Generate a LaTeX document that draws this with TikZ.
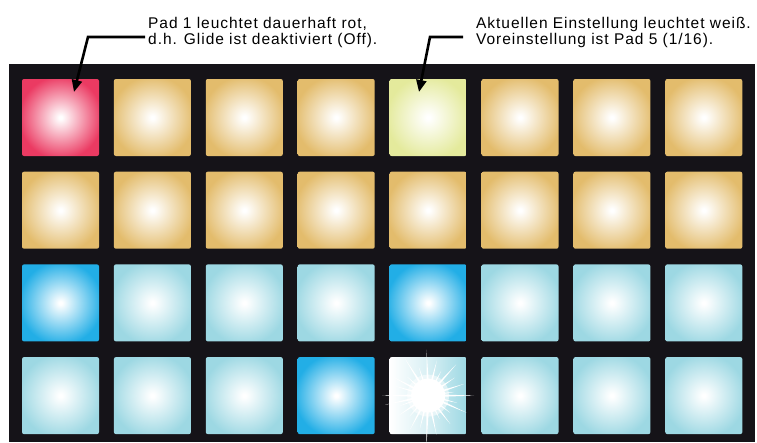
\documentclass[tikz,border=0pt]{standalone}
\usepackage{fontspec}
\setmainfont{Liberation Sans}[LetterSpace=6.2]
\usetikzlibrary{arrows.meta,calc}
\definecolor{panelbg}{HTML}{151318}
\definecolor{padred}{HTML}{EB3A62}
\definecolor{padorange}{HTML}{E3BC6C}
\definecolor{padyellow}{HTML}{E4EA9C}
\definecolor{padblue}{HTML}{22AEE6}
\definecolor{padlight}{HTML}{9DD8E3}
\pgfdeclareradialshading{shred}{\pgfpoint{0bp}{0bp}}{color(0bp)=(white); color(1bp)=(white); color(27bp)=(padred); color(50bp)=(padred)}
\pgfdeclareradialshading{shorange}{\pgfpoint{0bp}{0bp}}{color(0bp)=(white); color(1bp)=(white); color(27bp)=(padorange); color(50bp)=(padorange)}
\pgfdeclareradialshading{shyellow}{\pgfpoint{0bp}{0bp}}{color(0bp)=(white); color(1bp)=(white); color(27bp)=(padyellow); color(50bp)=(padyellow)}
\pgfdeclareradialshading{shblue}{\pgfpoint{0bp}{0bp}}{color(0bp)=(white); color(1bp)=(white); color(27bp)=(padblue); color(50bp)=(padblue)}
\pgfdeclareradialshading{shlight}{\pgfpoint{0bp}{0bp}}{color(0bp)=(white); color(1bp)=(white); color(27bp)=(padlight); color(50bp)=(padlight)}
\tikzset{
  pad/.style={minimum size=77pt, inner sep=0pt, rounded corners=2pt},
  padR/.style={shading=shred},
  padO/.style={shading=shorange},
  padY/.style={shading=shyellow},
  padB/.style={shading=shblue},
  padL/.style={shading=shlight},
  padS/.style={left color=white, right color=padlight, middle color=white!60!padlight},
  callout/.style={font=\fontsize{15.5}{15.5}\selectfont, align=left, inner sep=0pt, anchor=north west},
  callarrow/.style={line width=2.6pt, -{Triangle[length=12pt,width=10pt]}}
}
\begin{document}
\begin{tikzpicture}[x=1pt,y=-1pt]
\useasboundingbox (0,0) rectangle (757,442);
\fill[panelbg] (9,63.5) rectangle (755,442);
\foreach \r/\lst in {1/{padR,padO,padO,padO,padY,padO,padO,padO},
                     2/{padO,padO,padO,padO,padO,padO,padO,padO},
                     3/{padB,padL,padL,padL,padB,padL,padL,padL},
                     4/{padL,padL,padL,padB,padS,padL,padL,padL}}{
  \foreach \s [count=\c] in \lst {
    \node[pad,\s] (p\r\c) at ({60.5+91.9*(\c-1)},{117.5+92.7*(\r-1)}) {};
  }
}
% starburst on pad 4/5
\fill[white,opacity=0.5] (p45.center) circle[radius=21];
\fill[white] (p45.center) circle[radius=17];
\foreach \a/\l in {0/46,92/52,180/46,268/46,14/30,24/42,38/28,52/36,64/26,78/40,
                   104/34,118/38,132/28,146/36,160/30,168/44,196/34,208/40,222/28,
                   238/44,252/30,284/36,298/28,312/42,326/32,342/38,352/26}{
  \fill[white] ($(p45.center)+(\a+90:1.6)$) -- ($(p45.center)+(\a:\l)$) -- ($(p45.center)+(\a-90:1.6)$) -- cycle;
}
\node[callout] (t1) at (148,17.5) {Pad 1 leuchtet dauerhaft rot,\\d.h. Glide ist deaktiviert (Off).};
\node[callout] (t2) at (476,17.5) {Aktuellen Einstellung leuchtet weiß.\\Voreinstellung ist Pad 5 (1/16).};
\coordinate (a1s) at (145,37);
\coordinate (a1k) at (88,37);
\coordinate (a1t) at (74,92);
\coordinate (a2s) at (463,37);
\coordinate (a2k) at (430,37);
\coordinate (a2t) at (419,92);
\draw[callarrow] (a1s) -- (a1k) -- (a1t);
\draw[callarrow] (a2s) -- (a2k) -- (a2t);
\end{tikzpicture}
\end{document}
